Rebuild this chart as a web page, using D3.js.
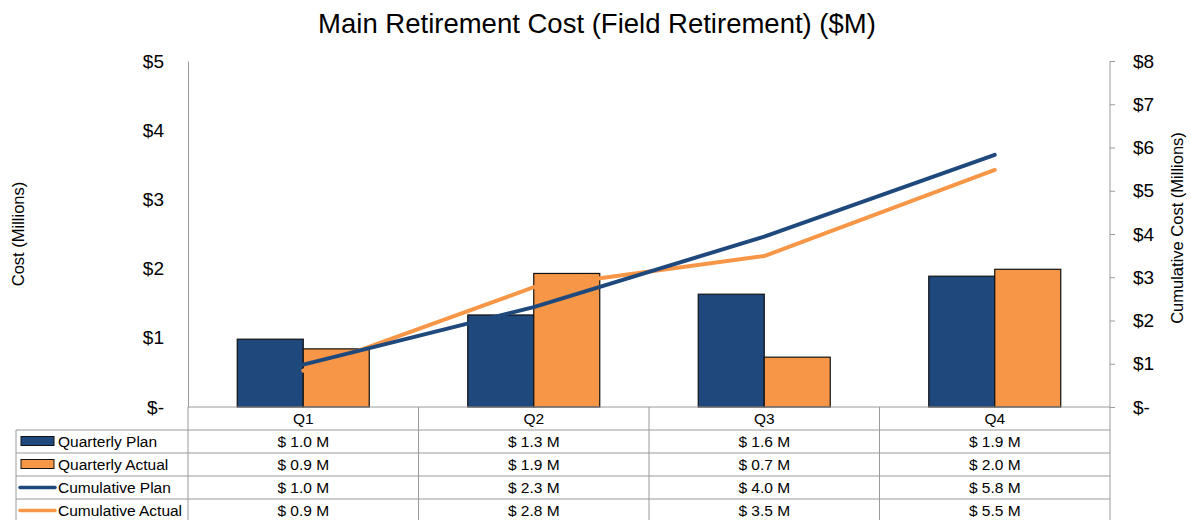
<!DOCTYPE html>
<html>
<head>
<meta charset="utf-8">
<script src="https://cdn.jsdelivr.net/npm/d3@7"></script>
<style>
  body { margin: 0; background: #fff; }
  svg { font-family: "Liberation Sans", Arial, sans-serif; }
</style>
</head>
<body>
<svg id="chart" width="1191" height="520"></svg>
<script>
// data
var quarters = ["Q1", "Q2", "Q3", "Q4"];
var quarterlyPlan = [0.98, 1.33, 1.63, 1.89];
var quarterlyActual = [0.84, 1.93, 0.72, 1.99];
var cumulativePlan = [0.98, 2.31, 3.94, 5.83];
var cumulativeActual = [0.84, 2.77, 3.49, 5.48];
var tablePlan = ["$ 1.0 M", "$ 1.3 M", "$ 1.6 M", "$ 1.9 M"];
var tableActual = ["$ 0.9 M", "$ 1.9 M", "$ 0.7 M", "$ 2.0 M"];
var tableCumPlan = ["$ 1.0 M", "$ 2.3 M", "$ 4.0 M", "$ 5.8 M"];
var tableCumActual = ["$ 0.9 M", "$ 2.8 M", "$ 3.5 M", "$ 5.5 M"];
var leftTicks = [0, 1, 2, 3, 4, 5];
var rightTicks = [0, 1, 2, 3, 4, 5, 6, 7, 8];

var blue = "#1f497d", orange = "#f79646", grid = "#9a9a9a";

var svg = d3.select("#chart");

// note: "top" is taken by window.top, so plotTop/plotBottom
var plotLeft = 188, plotRight = 1110, plotTop = 61, plotBottom = 407;
var rowH = 23;
var tableFont = "15.5px";

var x = d3.scaleBand().domain(quarters).range([plotLeft, plotRight]);
var y = d3.scaleLinear().domain([0, 5]).range([plotBottom, plotTop]);
var y2 = d3.scaleLinear().domain([0, 8]).range([plotBottom, plotTop]);

var fmt = function(d) { return d === 0 ? "$-" : "$" + d; };

// title
svg.append("text")
    .attr("x", 597).attr("y", 33)
    .attr("text-anchor", "middle")
    .style("font-size", "27.5px")
    .text("Main Retirement Cost (Field Retirement) ($M)");

// left axis
var yAxis = svg.append("g")
    .attr("transform", "translate(" + plotLeft + ",0)")
    .call(d3.axisLeft(y).tickValues(leftTicks).tickFormat(fmt).tickSize(0).tickPadding(24));
yAxis.select(".domain").attr("stroke", grid);
yAxis.selectAll("text").style("font-size", "19px").attr("fill", "#000");

// right axis
var y2Axis = svg.append("g")
    .attr("transform", "translate(" + plotRight + ",0)")
    .call(d3.axisRight(y2).tickValues(rightTicks).tickFormat(fmt).tickSize(5).tickPadding(18));
y2Axis.select(".domain").attr("stroke", grid).attr("d", "M0," + plotTop + "V520");
y2Axis.selectAll("line").attr("stroke", grid);
y2Axis.selectAll("text").style("font-size", "19px").attr("fill", "#000");

// axis titles
svg.append("text")
    .attr("transform", "translate(24,234) rotate(-90)")
    .attr("text-anchor", "middle")
    .style("font-size", "16.5px")
    .text("Cost (Millions)");
svg.append("text")
    .attr("transform", "translate(1183,228) rotate(-90)")
    .attr("text-anchor", "middle")
    .style("font-size", "16.5px")
    .text("Cumulative Cost (Millions)");

// bars
var barW = 66;
var bars = svg.append("g");
bars.selectAll(".plan")
    .data(quarterlyPlan)
    .enter().append("rect")
    .attr("x", function(d, i) { return x(quarters[i]) + x.bandwidth() / 2 - barW; })
    .attr("y", function(d) { return y(d); })
    .attr("width", barW)
    .attr("height", function(d) { return plotBottom - y(d); })
    .attr("fill", blue).attr("stroke", "#111").attr("stroke-width", 1.2);
bars.selectAll(".actual")
    .data(quarterlyActual)
    .enter().append("rect")
    .attr("x", function(d, i) { return x(quarters[i]) + x.bandwidth() / 2; })
    .attr("y", function(d) { return y(d); })
    .attr("width", barW)
    .attr("height", function(d) { return plotBottom - y(d); })
    .attr("fill", orange).attr("stroke", "#111").attr("stroke-width", 1.2);

// cumulative lines
var line = d3.line()
    .x(function(d, i) { return x(quarters[i]) + x.bandwidth() / 2; })
    .y(function(d) { return y2(d); });
svg.append("path").datum(cumulativeActual)
    .attr("d", line).attr("fill", "none")
    .attr("stroke", orange).attr("stroke-width", 4).attr("stroke-linecap", "round");
svg.append("path").datum(cumulativePlan)
    .attr("d", line).attr("fill", "none")
    .attr("stroke", blue).attr("stroke-width", 4).attr("stroke-linecap", "round");

// data table
var table = svg.append("g");
var rows = [
    { name: "Quarterly Plan", vals: tablePlan, color: blue, type: "rect" },
    { name: "Quarterly Actual", vals: tableActual, color: orange, type: "rect" },
    { name: "Cumulative Plan", vals: tableCumPlan, color: blue, type: "line" },
    { name: "Cumulative Actual", vals: tableCumActual, color: orange, type: "line" }
];

// horizontal lines
table.append("line").attr("x1", plotLeft).attr("x2", plotRight)
    .attr("y1", plotBottom).attr("y2", plotBottom).attr("stroke", grid);
for (var r = 1; r <= 4; r++) {
    table.append("line").attr("x1", 16).attr("x2", plotRight)
        .attr("y1", plotBottom + r * rowH).attr("y2", plotBottom + r * rowH).attr("stroke", grid);
}
// vertical lines
table.append("line").attr("x1", 16).attr("x2", 16)
    .attr("y1", plotBottom + rowH).attr("y2", 520).attr("stroke", grid);
quarters.forEach(function(q) {
    table.append("line").attr("x1", x(q)).attr("x2", x(q))
        .attr("y1", plotBottom).attr("y2", 520).attr("stroke", grid);
});

// header
table.selectAll(".hdr").data(quarters).enter().append("text")
    .attr("x", function(d) { return x(d) + x.bandwidth() / 2; })
    .attr("y", plotBottom + 17)
    .attr("text-anchor", "middle")
    .style("font-size", tableFont)
    .text(function(d) { return d; });

rows.forEach(function(row, r) {
    var cy = plotBottom + (r + 1) * rowH + rowH / 2;
    if (row.type === "rect") {
        table.append("rect").attr("x", 21).attr("y", cy - 5).attr("width", 33).attr("height", 9)
            .attr("fill", row.color).attr("stroke", "#111").attr("stroke-width", 1);
    } else {
        table.append("line").attr("x1", 20).attr("x2", 55).attr("y1", cy).attr("y2", cy)
            .attr("stroke", row.color).attr("stroke-width", 3.5).attr("stroke-linecap", "round");
    }
    table.append("text").attr("x", 58).attr("y", cy + 5.5)
        .style("font-size", tableFont).text(row.name);
    table.selectAll(null).data(row.vals).enter().append("text")
        .attr("x", function(d, i) { return x(quarters[i]) + x.bandwidth() / 2; })
        .attr("y", cy + 5.5)
        .attr("text-anchor", "middle")
        .style("font-size", tableFont)
        .text(function(d) { return d; });
});
</script>
</body>
</html>
